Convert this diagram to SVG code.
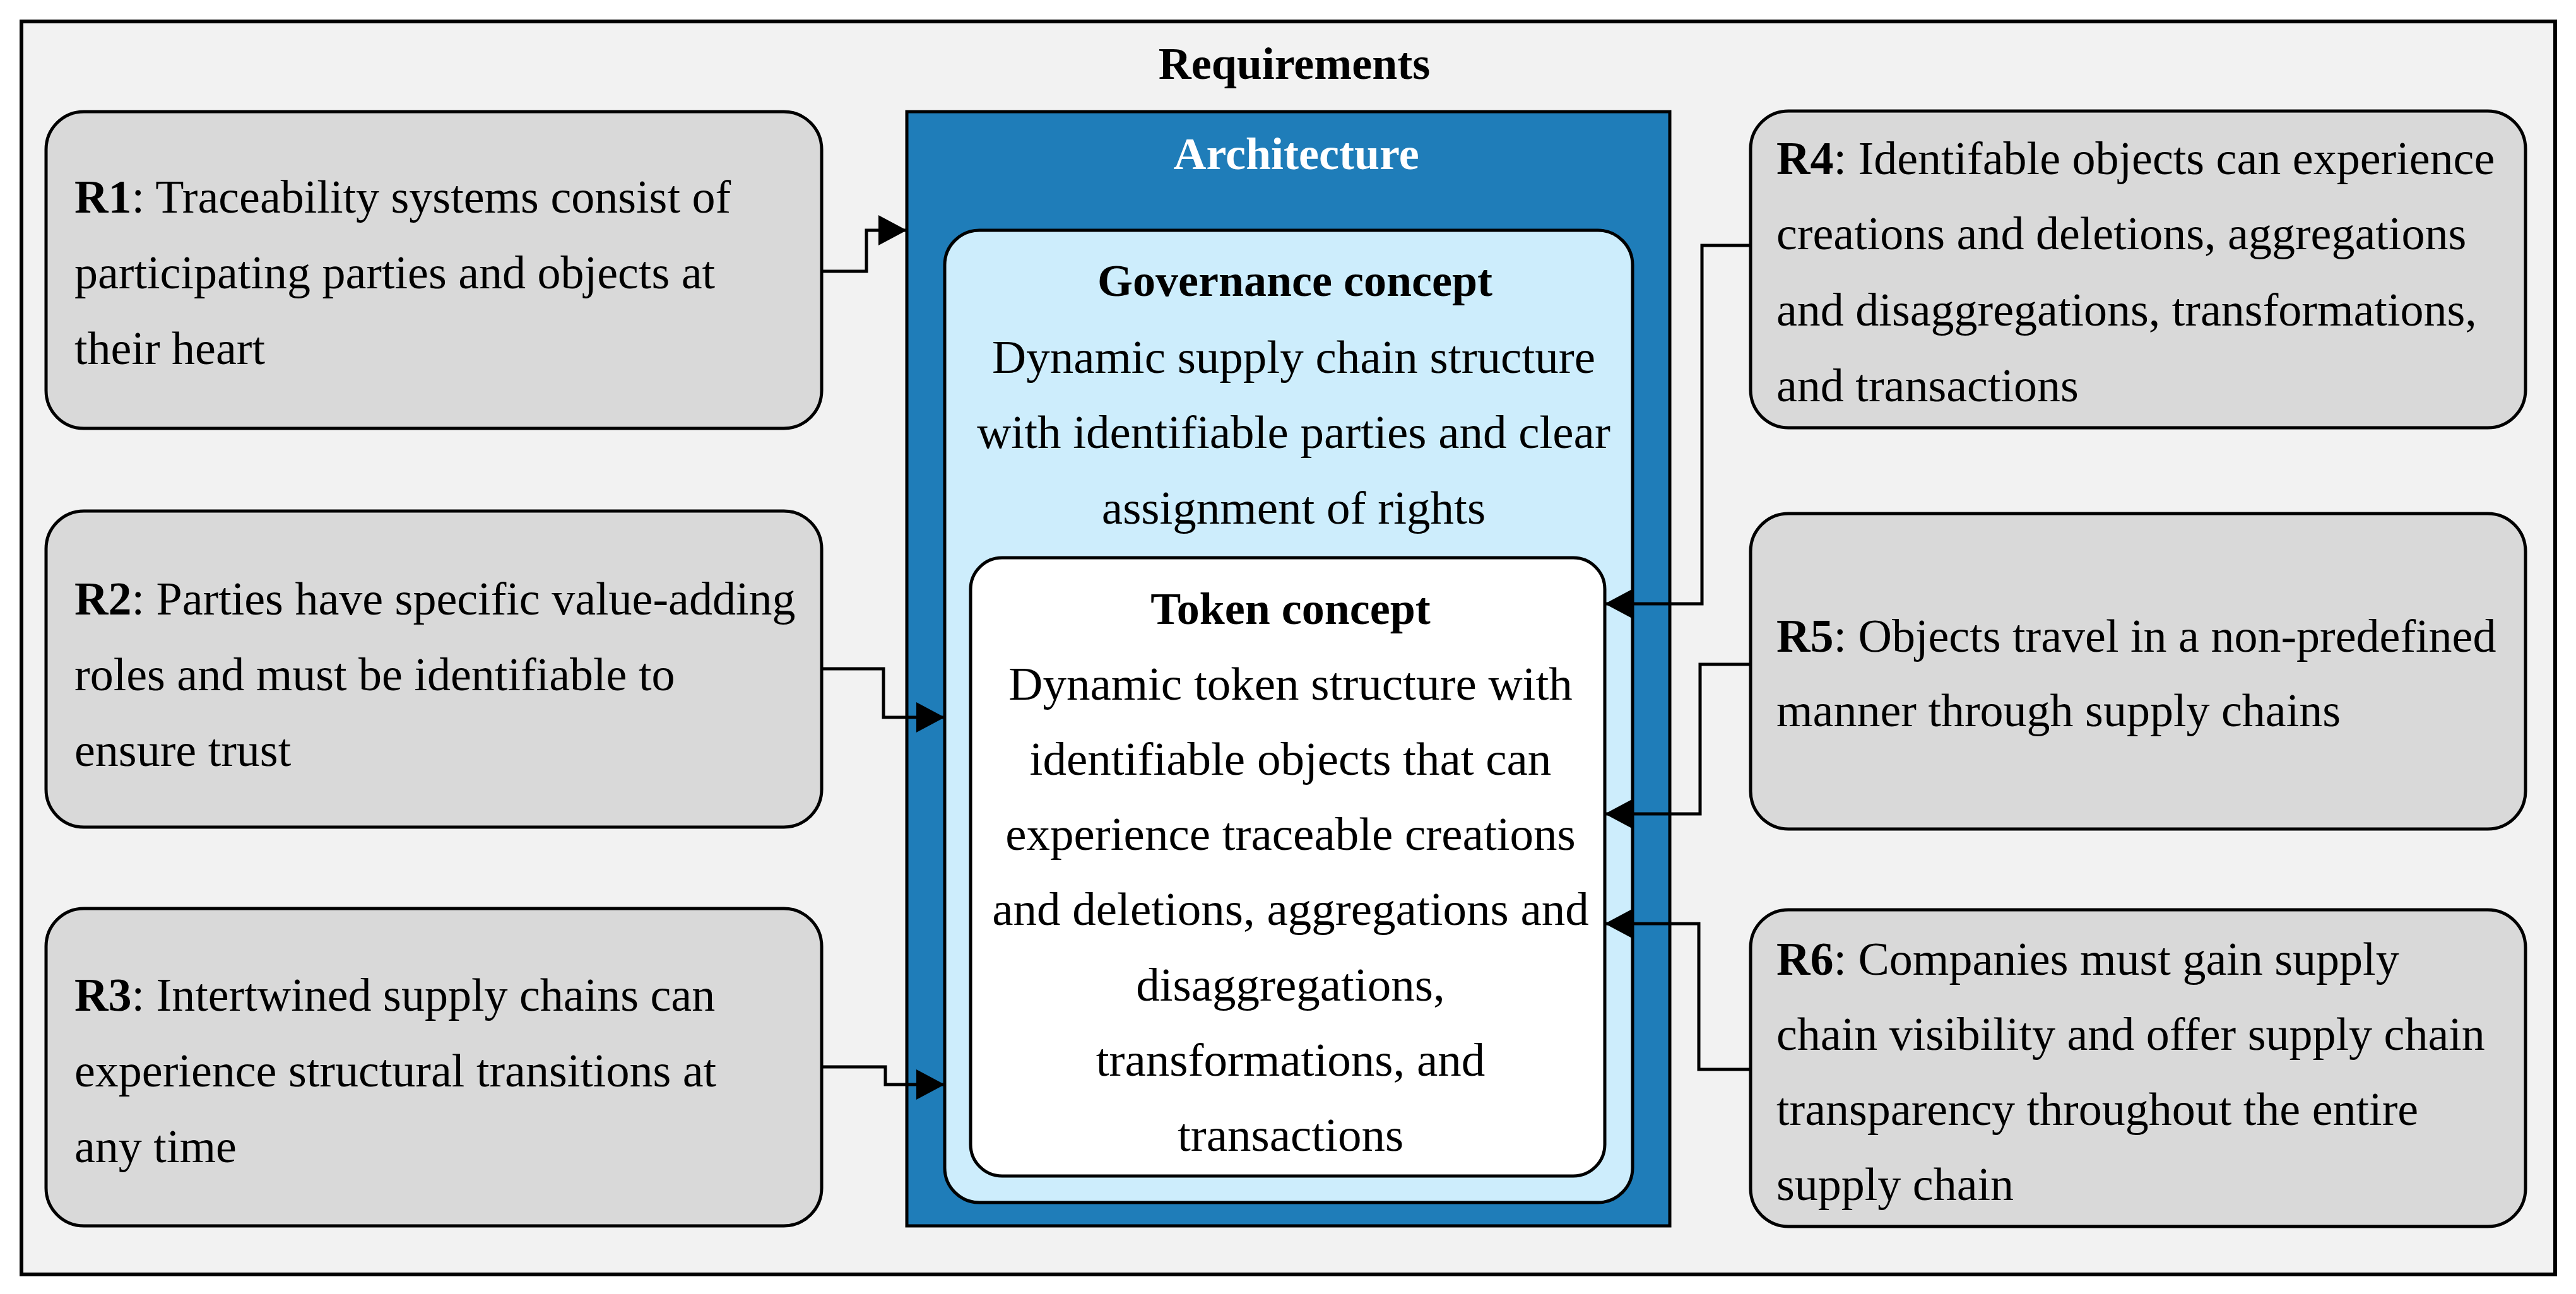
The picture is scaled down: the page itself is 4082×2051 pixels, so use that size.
<svg xmlns="http://www.w3.org/2000/svg" width="4082" height="2051" viewBox="0 0 4082 2051">
<style>
.req{fill:#D9D9D9;stroke:#000;stroke-width:5}
.t{font-family:"Liberation Serif","Times New Roman",serif;font-size:74px;fill:#000}
.c{font-family:"Liberation Serif","Times New Roman",serif;font-size:75px;fill:#000;text-anchor:middle}
.h{font-family:"Liberation Serif","Times New Roman",serif;font-size:72px;font-weight:bold;text-anchor:middle}
.conn{fill:none;stroke:#000;stroke-width:5}
</style>
<defs>
<marker id="ah" markerUnits="userSpaceOnUse" markerWidth="46" markerHeight="48" refX="45" refY="24" orient="auto">
<path d="M0,0 L45,24 L0,48 z" fill="#000"/>
</marker>
</defs>
<rect width="4082" height="2051" fill="#FFFFFF"/>
<g id="frame">
<rect x="34" y="34" width="4015" height="1986" fill="#F2F2F2" stroke="#000" stroke-width="6"/>
<text class="h" x="2051" y="125" fill="#000">Requirements</text>
</g>
<g id="r1">
<rect class="req" x="73" y="177" width="1229" height="502" rx="60"/>
<text class="t"><tspan x="118" y="337"><tspan font-weight="bold">R1</tspan>: Traceability systems consist of</tspan><tspan x="118" y="457">participating parties and objects at</tspan><tspan x="118" y="577">their heart</tspan></text>
</g>
<g id="r2">
<rect class="req" x="73" y="810" width="1229" height="501" rx="60"/>
<text class="t"><tspan x="118" y="974"><tspan font-weight="bold">R2</tspan>: Parties have specific value-adding</tspan><tspan x="118" y="1094">roles and must be identifiable to</tspan><tspan x="118" y="1214">ensure trust</tspan></text>
</g>
<g id="r3">
<rect class="req" x="73" y="1440" width="1229" height="503" rx="60"/>
<text class="t"><tspan x="118" y="1602"><tspan font-weight="bold">R3</tspan>: Intertwined supply chains can</tspan><tspan x="118" y="1722">experience structural transitions at</tspan><tspan x="118" y="1842">any time</tspan></text>
</g>
<g id="r4">
<rect class="req" x="2774" y="176" width="1228" height="502" rx="60"/>
<text class="t"><tspan x="2815" y="276"><tspan font-weight="bold">R4</tspan>: Identifable objects can experience</tspan><tspan x="2815" y="395">creations and deletions, aggregations</tspan><tspan x="2815" y="516">and disaggregations, transformations,</tspan><tspan x="2815" y="636">and transactions</tspan></text>
</g>
<g id="r5">
<rect class="req" x="2774" y="814" width="1228" height="500" rx="60"/>
<text class="t"><tspan x="2815" y="1033"><tspan font-weight="bold">R5</tspan>: Objects travel in a non-predefined</tspan><tspan x="2815" y="1151">manner through supply chains</tspan></text>
</g>
<g id="r6">
<rect class="req" x="2774" y="1442" width="1228" height="502" rx="60"/>
<text class="t"><tspan x="2815" y="1545"><tspan font-weight="bold">R6</tspan>: Companies must gain supply</tspan><tspan x="2815" y="1664">chain visibility and offer supply chain</tspan><tspan x="2815" y="1783">transparency throughout the entire</tspan><tspan x="2815" y="1902">supply chain</tspan></text>
</g>
<g id="architecture">
<rect x="1437" y="177" width="1209" height="1766" fill="#1F7DB9" stroke="#000" stroke-width="5"/>
<text class="h" x="2054" y="268" fill="#FFFFFF">Architecture</text>
</g>
<g id="governance">
<rect x="1497" y="365" width="1090" height="1541" rx="55" fill="#CDEDFC" stroke="#000" stroke-width="5"/>
<text class="h" x="2052" y="469" fill="#000">Governance concept</text>
<text class="c"><tspan x="2050" y="591">Dynamic supply chain structure</tspan><tspan x="2050" y="710">with identifiable parties and clear</tspan><tspan x="2050" y="830">assignment of rights</tspan></text>
</g>
<g id="token">
<rect x="1538" y="884" width="1005" height="980" rx="50" fill="#FFFFFF" stroke="#000" stroke-width="5"/>
<text class="h" x="2045" y="989" fill="#000">Token concept</text>
<text class="c"><tspan x="2045" y="1109">Dynamic token structure with</tspan><tspan x="2045" y="1228">identifiable objects that can</tspan><tspan x="2045" y="1347">experience traceable creations</tspan><tspan x="2045" y="1466">and deletions, aggregations and</tspan><tspan x="2045" y="1586">disaggregations,</tspan><tspan x="2045" y="1705">transformations, and</tspan><tspan x="2045" y="1824">transactions</tspan></text>
</g>
<g id="connectors">
<path class="conn" d="M1302,430 H1373 V365 H1437" marker-end="url(#ah)"/>
<path class="conn" d="M1302,1060 H1400 V1137 H1497" marker-end="url(#ah)"/>
<path class="conn" d="M1302,1691 H1403 V1719 H1497" marker-end="url(#ah)"/>
<path class="conn" d="M2774,389 H2697 V957 H2543" marker-end="url(#ah)"/>
<path class="conn" d="M2774,1053 H2694 V1290 H2543" marker-end="url(#ah)"/>
<path class="conn" d="M2774,1695 H2692 V1464 H2543" marker-end="url(#ah)"/>
</g>
</svg>
